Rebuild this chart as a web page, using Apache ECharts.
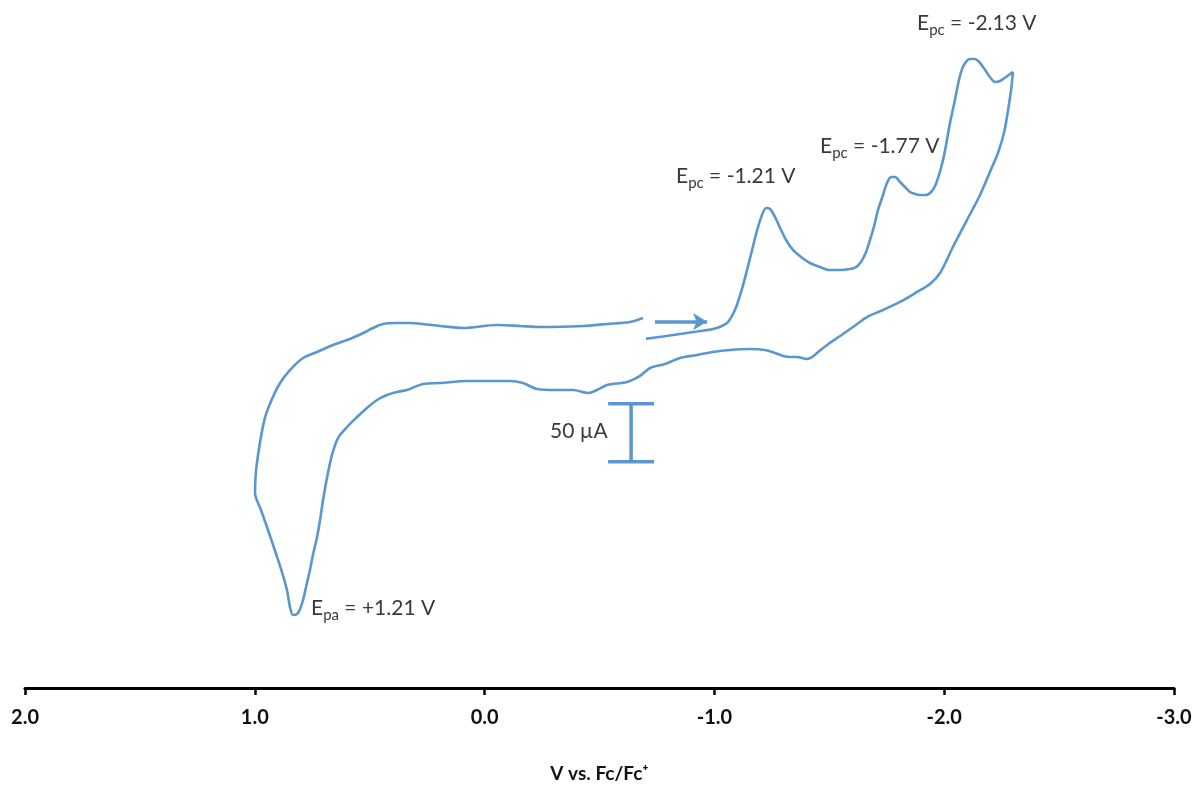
<!DOCTYPE html>
<html>
<head>
<meta charset="utf-8">
<script src="https://cdn.jsdelivr.net/npm/echarts@6/dist/echarts.min.js"></script>
<style>
html,body{margin:0;padding:0;background:#fff;}
#chart{width:1197px;height:790px;}
</style>
</head>
<body>
<div id="chart"></div>
<script>
// Potential (V vs Fc/Fc+) and current (µA, arbitrary offset)
const forwardE = [-0.702,-0.776,-0.850,-0.924,-0.994,-1.033,-1.059,-1.081,-1.098,-1.120,-1.142,-1.164,-1.185,-1.207,-1.225,-1.242,-1.264,-1.286,-1.312,-1.342,-1.377,-1.416,-1.460,-1.503,-1.547,-1.590,-1.616,-1.638,-1.660,-1.677,-1.695,-1.712,-1.734,-1.751,-1.769,-1.786,-1.808,-1.829,-1.851,-1.873,-1.895,-1.921,-1.943,-1.960,-1.977,-1.995,-2.012,-2.025,-2.043,-2.056,-2.073,-2.091,-2.112,-2.134,-2.156,-2.178,-2.199,-2.221,-2.243,-2.269,-2.299];
const forwardI = [301.1,303.0,305.2,307.3,309.5,312.1,315.5,322.4,330.2,344.0,360.3,377.6,394.0,407.8,413.8,412.9,406.0,396.6,386.2,377.6,371.6,366.4,362.9,360.3,360.3,361.2,362.9,367.2,375.9,386.2,398.3,412.1,425.0,435.3,440.5,440.5,436.2,431.9,427.6,425.9,425.0,425.0,427.6,432.8,442.2,455.2,472.4,487.1,503.4,516.4,531.0,538.8,542.2,542.2,538.8,532.8,526.7,522.4,523.3,526.7,531.0];

const reverseE = [-2.291,-2.278,-2.260,-2.234,-2.199,-2.156,-2.099,-2.038,-1.982,-1.938,-1.882,-1.808,-1.734,-1.664,-1.603,-1.547,-1.490,-1.447,-1.425,-1.403,-1.359,-1.329,-1.299,-1.264,-1.220,-1.155,-1.068,-0.994,-0.924,-0.850,-0.785,-0.720,-0.676,-0.620,-0.533,-0.489,-0.450,-0.385,-0.315,-0.228,-0.167,-0.111,-0.024,0.077,0.194,0.268,0.338,0.381,0.425,0.468,0.512,0.555,0.599,0.638,0.664,0.686,0.703,0.716,0.729,0.747,0.760,0.777,0.790,0.803,0.816,0.834,0.847,0.860,0.882,0.903,0.925,0.947,0.973,0.999];
const reverseI = [515.5,498.3,478.4,461.2,444.8,425.0,403.4,380.2,357.8,348.3,341.4,332.8,325.9,319.8,311.2,303.4,295.7,288.8,285.3,283.6,285.3,285.3,286.2,288.8,291.4,292.2,291.4,289.7,287.1,284.5,279.3,275.9,269.0,263.8,261.2,256.9,254.3,256.9,256.9,257.8,262.9,264.7,264.7,264.7,262.9,262.1,256.9,255.2,252.6,248.3,241.4,233.6,225.0,215.5,200.9,181.0,162.1,144.8,130.2,114.7,101.7,87.1,75.9,68.1,63.8,62.9,69.8,84.5,100.0,112.9,125.9,138.8,153.4,168.1];

const returnE = [0.997,0.992,0.977,0.956,0.927,0.890,0.847,0.790,0.729,0.660,0.586,0.529,0.486,0.442,0.381,0.325,0.268,0.194,0.094,-0.054,-0.154,-0.241,-0.428,-0.533,-0.633,-0.689];
const returnI = [181.0,192.2,212.1,232.8,248.3,262.9,274.1,284.5,289.7,295.7,300.9,306.0,310.3,313.8,314.7,314.7,313.8,312.1,310.3,312.9,312.1,311.2,312.1,313.8,315.5,319.0];

const xTicks = [2, 1, 0, -1, -2, -3];

// 50 µA scale bar (data units) and scan-direction arrow
const scaleBarE = -0.6375;
const scaleBarCapHalf = 0.1;
const scaleBarTopI = 245;
const scaleBarBottomI = 195; // 50 µA below the top
const arrowStartE = -0.7415, arrowEndE = -0.968, arrowI = 315.8;

const peakLabels = ['E{s|pc} = -2.13 V', 'E{s|pc} = -1.77 V', 'E{s|pc} = -1.21 V', 'E{s|pa} = +1.21 V'];
const scaleLabel = '50 \u00B5A';
const axisTitle = 'V vs. Fc/Fc\u207A';

const cv = [];
forwardE.forEach((e, i) => cv.push([e, forwardI[i]]));
reverseE.forEach((e, i) => cv.push([e, reverseI[i]]));
returnE.forEach((e, i) => cv.push([e, returnI[i]]));

const scaleBar = [
  [scaleBarE + scaleBarCapHalf, scaleBarTopI], [scaleBarE - scaleBarCapHalf, scaleBarTopI], ['-', '-'],
  [scaleBarE, scaleBarTopI], [scaleBarE, scaleBarBottomI], ['-', '-'],
  [scaleBarE + scaleBarCapHalf, scaleBarBottomI], [scaleBarE - scaleBarCapHalf, scaleBarBottomI]
];

const BLUE = '#5b97cf';
const TXT = '#3a3a3a';
const FONT = 'Lato, "Open Sans", sans-serif';

function richLabel(raw, x, y) {
  const m = raw.match(/^(.*)\{s\|(\w+)\}(.*)$/);
  return {
    type: 'text', x: x, y: y, silent: true,
    style: {
      text: '{m|' + m[1] + '}{s|' + m[2] + '}{m|' + m[3] + '}',
      verticalAlign: 'top',
      align: 'left',
      rich: {
        m: { fontSize: 21, fontFamily: FONT, fill: TXT, verticalAlign: 'top', lineHeight: 26 },
        s: { fontSize: 15, fontFamily: FONT, fill: TXT, verticalAlign: 'top', lineHeight: 18, padding: [10, 0, 0, 0] }
      }
    }
  };
}

const chart = echarts.init(document.getElementById('chart'), null, { renderer: 'canvas' });
chart.setOption({
  animation: false,
  backgroundColor: '#ffffff',
  grid: { left: 25, right: 23, top: 15.2, bottom: 102, containLabel: false, outerBoundsMode: 'none' },
  xAxis: {
    type: 'value', inverse: true, min: -3, max: 2, interval: 1,
    axisLine: { show: true, onZero: false, lineStyle: { color: '#000', width: 3 } },
    axisTick: { show: true, length: 7, lineStyle: { color: '#000', width: 2.5 } },
    splitLine: { show: false },
    axisLabel: {
      color: '#111', fontSize: 20, fontWeight: 'bold', fontFamily: FONT, margin: 20,
      showMinLabel: true, showMaxLabel: true,
      formatter: v => xTicks.includes(v) ? v.toFixed(1) : ''
    },
    name: axisTitle, nameLocation: 'middle', nameGap: 76,
    nameTextStyle: { color: '#111', fontSize: 19, fontWeight: 'bold', fontFamily: FONT }
  },
  yAxis: { type: 'value', min: 0, max: 580, show: false },
  series: [
    {
      type: 'line', data: cv, showSymbol: false, smooth: 0.3, silent: true,
      lineStyle: { color: BLUE, width: 2.6 }, clip: false
    },
    {
      type: 'line', data: scaleBar, showSymbol: false, connectNulls: false, silent: true,
      lineStyle: { color: BLUE, width: 3.5 },
      markLine: {
        silent: true, symbol: ['none', 'arrow'], symbolSize: [13, 14],
        label: { show: false },
        lineStyle: { color: BLUE, width: 3.5, type: 'solid' },
        data: [[{ coord: [arrowStartE, arrowI] }, { coord: [arrowEndE, arrowI] }]]
      }
    }
  ],
  graphic: [
    richLabel(peakLabels[0], 917, 13),
    richLabel(peakLabels[1], 820, 136),
    richLabel(peakLabels[2], 676, 166),
    richLabel(peakLabels[3], 311, 598),
    {
      type: 'text', x: 550, y: 421, silent: true,
      style: {
        text: '{m|' + scaleLabel + '}', verticalAlign: 'top', align: 'left',
        rich: { m: { fontSize: 21, fontFamily: FONT, fill: TXT, verticalAlign: 'top', lineHeight: 26 } }
      }
    }
  ]
});
</script>
</body>
</html>
